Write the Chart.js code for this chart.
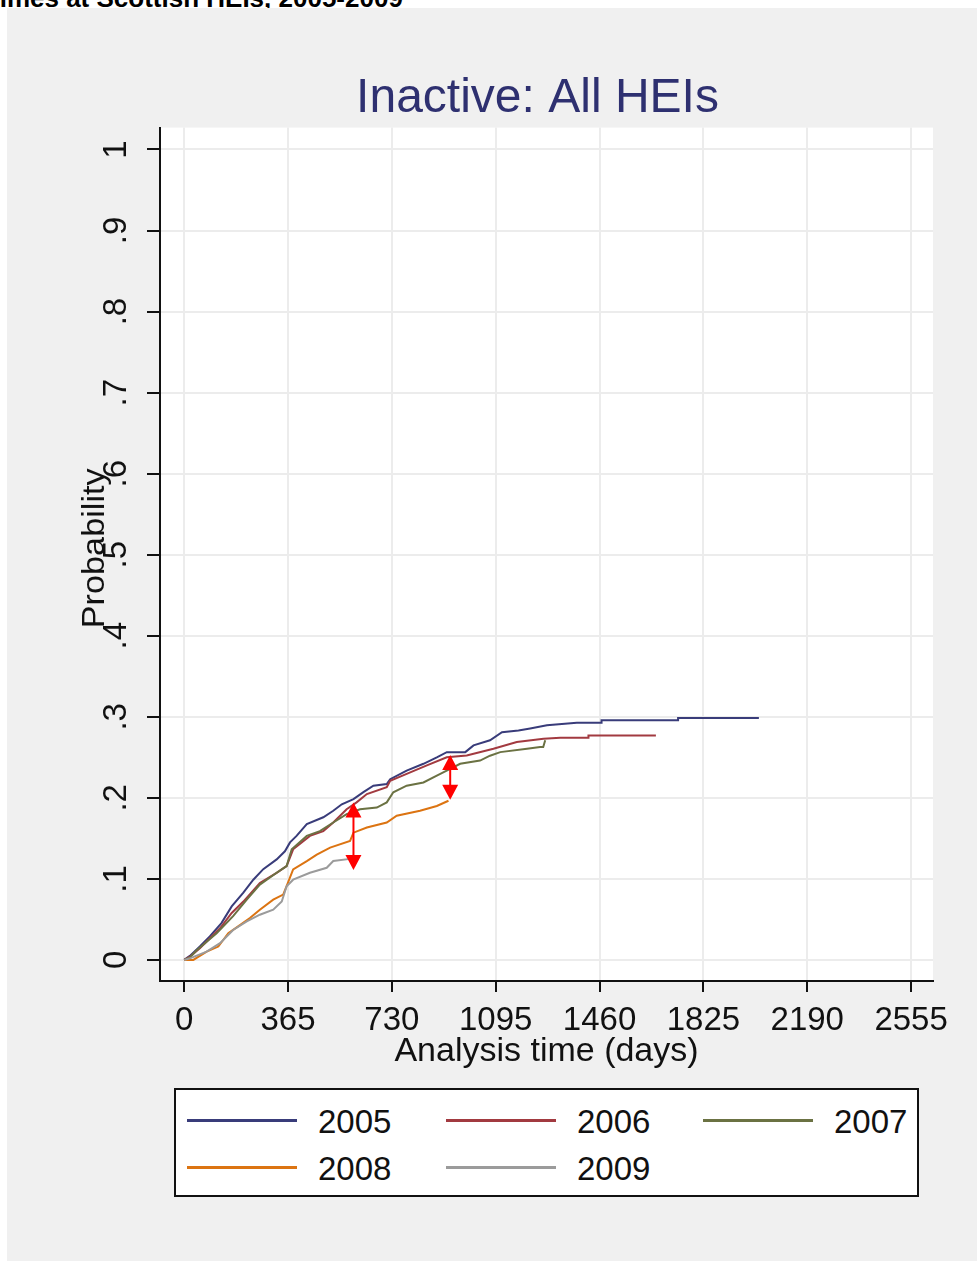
<!DOCTYPE html>
<html>
<head>
<meta charset="utf-8">
<script src="https://cdn.jsdelivr.net/npm/chart.js@4/dist/chart.umd.min.js"></script>
<style>
  html, body { margin: 0; padding: 0; background: #ffffff; width: 977px; height: 1261px; overflow: hidden; position: relative; }
  #topnote { position: absolute; left: -9px; top: -15px; font: bold 26px "Liberation Sans", Arial, sans-serif; line-height: 26px; color: #000; white-space: nowrap; }
  #panel { position: absolute; left: 7px; top: 8px; right: 0; bottom: 0; background: #f0f0f0; }
  #c { position: absolute; left: 0; top: 0; }
  #legend { position: absolute; left: 174px; top: 1088px; width: 745px; height: 109px; box-sizing: border-box; border: 2px solid #111; background: #fff; }
  .li { position: absolute; height: 44px; }
  .ls { position: absolute; left: 0; top: 19px; width: 110px; height: 3px; }
  .lt { position: absolute; left: 131px; top: 0; font: 33px "Liberation Sans", Arial, sans-serif; line-height: 44px; color: #111; white-space: nowrap; }
</style>
</head>
<body>
<div id="topnote">times at Scottish HEIs, 2005-2009</div>
<div id="panel"></div>
<canvas id="c" width="977" height="1261"></canvas>
<div id="legend"></div>
<script>
// ---------- data ----------
const chartTitle = "Inactive: All HEIs";
const xTitle = "Analysis time (days)";
const yTitle = "Probability";
const seriesNames = ["2005", "2006", "2007", "2008", "2009"];
const seriesColors = ["#393c7a", "#a23a40", "#6b7243", "#dc7412", "#9b9b9b"];

const xTickValues = [0, 365, 730, 1095, 1460, 1825, 2190, 2555];
const xTickLabels = ["0", "365", "730", "1095", "1460", "1825", "2190", "2555"];
const yTickValues = [0, 0.1, 0.2, 0.3, 0.4, 0.5, 0.6, 0.7, 0.8, 0.9, 1];
const yTickLabels = ["0", ".1", ".2", ".3", ".4", ".5", ".6", ".7", ".8", ".9", "1"];

// cumulative probability (time in days)
const t2005 = [0, 20, 55, 90, 131, 167, 208, 243, 278, 325, 354, 372, 395, 431, 489, 524, 554, 595, 630, 665, 712, 724, 782, 841, 888, 923, 988, 1017, 1075, 1117, 1175, 1216, 1275, 1380, 1467, 1467, 1736, 1736, 2020];
const p2005 = [0, 0.005, 0.0165, 0.029, 0.0455, 0.066, 0.083, 0.099, 0.112, 0.124, 0.134, 0.145, 0.153, 0.1675, 0.176, 0.184, 0.192, 0.1985, 0.207, 0.215, 0.217, 0.223, 0.2336, 0.242, 0.25, 0.2564, 0.2564, 0.2647, 0.271, 0.281, 0.283, 0.2856, 0.2895, 0.2928, 0.2928, 0.2957, 0.2957, 0.2986, 0.2986];

const t2006 = [0, 20, 55, 126, 167, 208, 266, 325, 360, 383, 442, 489, 524, 571, 606, 642, 712, 724, 782, 853, 923, 993, 1087, 1169, 1263, 1322, 1421, 1421, 1658];
const p2006 = [0, 0.004, 0.0145, 0.039, 0.058, 0.072, 0.095, 0.1075, 0.1158, 0.1365, 0.153, 0.159, 0.1696, 0.186, 0.1944, 0.2047, 0.213, 0.221, 0.2295, 0.24, 0.25, 0.2523, 0.2605, 0.2688, 0.273, 0.274, 0.2740, 0.277, 0.277];

const t2007 = [0, 20, 44, 114, 172, 220, 266, 325, 360, 378, 431, 477, 524, 571, 618, 677, 712, 735, 782, 841, 888, 935, 970, 1040, 1075, 1111, 1205, 1251, 1262, 1269];
const p2007 = [0, 0.003, 0.012, 0.033, 0.054, 0.0744, 0.093, 0.1075, 0.1158, 0.1365, 0.153, 0.159, 0.1696, 0.18, 0.186, 0.188, 0.1944, 0.2068, 0.215, 0.219, 0.2274, 0.2357, 0.242, 0.246, 0.252, 0.2564, 0.2605, 0.2626, 0.2626, 0.271];

const t2008 = [0, 32, 79, 120, 155, 196, 231, 266, 313, 348, 360, 383, 431, 466, 513, 583, 595, 642, 712, 747, 829, 888, 929];
const p2008 = [0, 0, 0.0103, 0.0165, 0.033, 0.043, 0.0517, 0.062, 0.0744, 0.0806, 0.091, 0.1117, 0.122, 0.130, 0.1386, 0.1468, 0.157, 0.1634, 0.1696, 0.178, 0.184, 0.190, 0.1964];

const t2009 = [0, 20, 79, 126, 172, 220, 266, 313, 343, 360, 383, 442, 501, 524, 590];
const p2009 = [0, 0.002, 0.0103, 0.0207, 0.037, 0.0475, 0.0558, 0.062, 0.072, 0.091, 0.099, 0.1075, 0.1137, 0.122, 0.125];

// red double-headed annotation arrows (x in days, y in probability)
const arrowX = [595, 935];
const arrowTop = [0.1944, 0.253];
const arrowBottom = [0.111, 0.1977];

// ---------- build ----------
const times = [t2005, t2006, t2007, t2008, t2009];
const probs = [p2005, p2006, p2007, p2008, p2009];

const datasets = seriesNames.map((name, i) => ({
  label: name,
  data: times[i].map((t, j) => ({ x: t, y: probs[i][j] })),
  borderColor: seriesColors[i],
  backgroundColor: seriesColors[i],
  borderWidth: 2,
  pointRadius: 0,
  fill: false,
  tension: 0
}));
datasets.reverse(); // 2005 drawn last (on top)

const sans = '"Liberation Sans", Arial, sans-serif';

const plotBg = {
  id: 'plotBg',
  beforeDraw(chart) {
    const { ctx, chartArea: a } = chart;
    ctx.save();
    ctx.fillStyle = '#ffffff';
    ctx.fillRect(a.left, a.top, a.right - a.left, a.bottom - a.top);
    ctx.restore();
  }
};

const arrows = {
  id: 'arrows',
  afterDatasetsDraw(chart) {
    const { ctx, scales: { x, y } } = chart;
    ctx.save();
    ctx.strokeStyle = '#ff0000';
    ctx.fillStyle = '#ff0000';
    ctx.lineWidth = 2;
    const hw = 8, hl = 15;
    arrowX.forEach((ax, i) => {
      const px = x.getPixelForValue(ax);
      const y1 = y.getPixelForValue(arrowTop[i]);
      const y2 = y.getPixelForValue(arrowBottom[i]);
      ctx.beginPath();
      ctx.moveTo(px, y1 + hl - 2);
      ctx.lineTo(px, y2 - hl + 2);
      ctx.stroke();
      ctx.beginPath();
      ctx.moveTo(px, y1); ctx.lineTo(px - hw, y1 + hl); ctx.lineTo(px + hw, y1 + hl); ctx.closePath(); ctx.fill();
      ctx.beginPath();
      ctx.moveTo(px, y2); ctx.lineTo(px - hw, y2 - hl); ctx.lineTo(px + hw, y2 - hl); ctx.closePath(); ctx.fill();
    });
    ctx.restore();
  }
};

// vertical-axis tick labels and title, rotated to read bottom-to-top
const yAxisText = {
  id: 'yAxisText',
  afterDraw(chart) {
    const { ctx, scales: { y } } = chart;
    ctx.save();
    ctx.fillStyle = '#111';
    ctx.textAlign = 'center';
    ctx.textBaseline = 'alphabetic';
    ctx.font = '33px ' + sans;
    const labelX = y.right - 34;
    y.ticks.forEach((tk, i) => {
      const py = y.getPixelForValue(tk.value);
      ctx.save();
      ctx.translate(labelX, py);
      ctx.rotate(-Math.PI / 2);
      ctx.fillText(yTickLabels[i], 0, 0);
      ctx.restore();
    });
    ctx.font = '32px ' + sans;
    ctx.translate(y.right - 56, (y.top + y.bottom) / 2 - 6);
    ctx.rotate(-Math.PI / 2);
    ctx.scale(1.07, 1);
    ctx.fillText(yTitle, 0, 0);
    ctx.restore();
  }
};

new Chart(document.getElementById('c'), {
  type: 'line',
  data: { datasets },
  plugins: [plotBg, arrows, yAxisText],
  options: {
    responsive: false,
    animation: false,
    events: [],
    layout: { padding: { left: 142, right: 44, top: 70, bottom: 180 } },
    plugins: {
      legend: { display: false },
      tooltip: { enabled: false },
      title: {
        display: true, text: chartTitle, color: '#2e3070',
        font: { family: sans, size: 48, weight: 'normal', lineHeight: 1.2 },
        padding: { top: 0, bottom: 0 }
      }
    },
    scales: {
      x: {
        type: 'linear', min: -85, max: 2632,
        afterBuildTicks: s => { s.ticks = xTickValues.map(v => ({ value: v })); },
        afterFit: s => { s.height = 100; },
        ticks: {
          autoSkip: false, maxRotation: 0, minRotation: 0, padding: 12, color: '#111',
          font: { family: sans, size: 33, lineHeight: 1 },
          callback: (v, i) => xTickLabels[i]
        },
        grid: { color: '#ececec', lineWidth: 2, tickColor: '#111', tickWidth: 2, tickLength: 11 },
        border: { color: '#111', width: 2 },
        title: { display: true, text: xTitle, color: '#111', font: { family: sans, size: 34, lineHeight: 1.2 }, padding: { top: 0, bottom: 9 } }
      },
      y: {
        type: 'linear', min: -0.026, max: 1.027,
        afterBuildTicks: s => { s.ticks = yTickValues.map(v => ({ value: v })); },
        afterFit: s => { s.width = 18; },
        ticks: { display: false, autoSkip: false },
        grid: { color: '#ececec', lineWidth: 2, tickColor: '#111', tickWidth: 2, tickLength: 13 },
        border: { color: '#111', width: 2 },
        title: { display: false }
      }
    }
  }
});

// ---------- legend (HTML) ----------
const legend = document.getElementById('legend');
const colStep = [11, 270, 527];
const rowTop = [10, 57];
seriesNames.forEach((name, i) => {
  const item = document.createElement('div');
  item.className = 'li';
  item.style.left = colStep[i % 3] + 'px';
  item.style.top = rowTop[Math.floor(i / 3)] + 'px';
  const sw = document.createElement('div');
  sw.className = 'ls';
  sw.style.background = seriesColors[i];
  const tx = document.createElement('div');
  tx.className = 'lt';
  tx.textContent = name;
  item.appendChild(sw);
  item.appendChild(tx);
  legend.appendChild(item);
});
</script>
</body>
</html>
